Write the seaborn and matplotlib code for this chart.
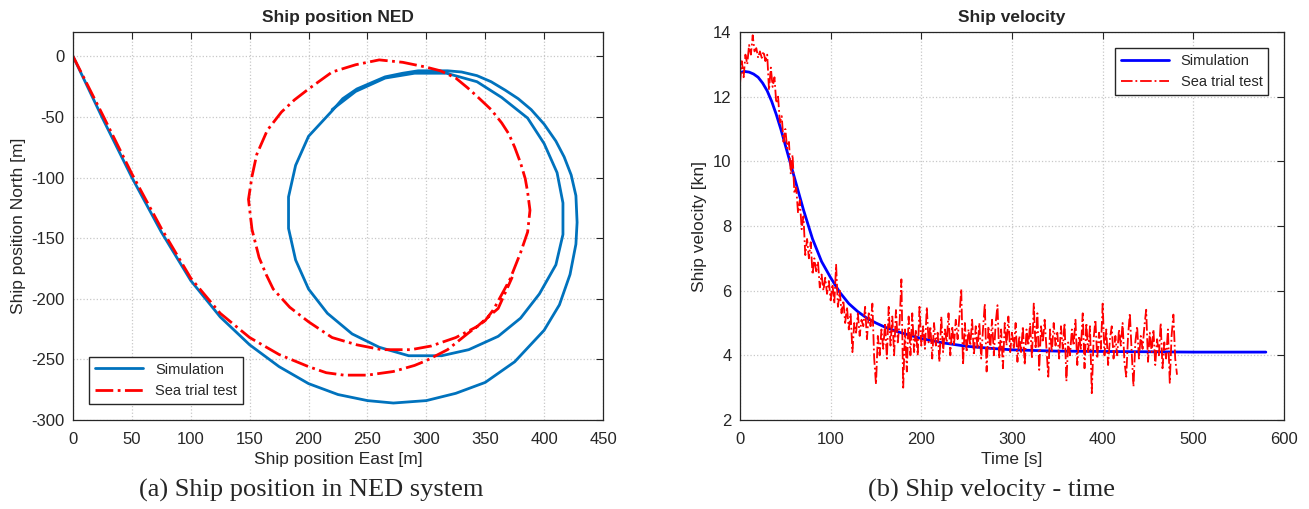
import numpy as np
import pandas as pd
import seaborn as sns
import matplotlib.pyplot as plt

# ship position NED - simulation (east, north) [m]
sim_east = [0, 25, 50, 75, 100, 125, 150, 175, 200, 225, 250, 272, 300, 325, 350, 375, 400,
            413, 422, 427, 428, 427, 423, 417, 410, 400, 389, 378, 367, 355, 343, 330, 318,
            305, 293, 280, 265, 253, 241, 229, 220,
            200, 189, 183, 183, 189, 200, 216, 237, 260, 285, 313, 336, 361, 380, 396, 410,
            416, 416, 411, 400, 386, 364, 343, 317, 290, 265, 240, 220]
sim_north = [0, -51, -100, -145, -185, -215, -238, -256, -270, -279, -284, -286, -284, -278,
             -269, -252, -226, -205, -180, -155, -137, -115, -98, -83, -70, -56, -44, -35, -28,
             -21, -16, -13, -12, -12, -12, -14, -17, -22, -27, -35, -45,
             -66, -90, -116, -142, -168, -192, -212, -229, -240, -247, -247, -242, -231, -216,
             -196, -172, -147, -121, -96, -72, -51, -34, -21, -14, -14, -18, -29, -44]

# ship position NED - sea trial test
sea_east = [0, 25, 50, 75, 100, 125, 150, 175, 200, 215, 230, 250, 272, 290, 300, 318, 336,
            350, 357, 371, 380, 386, 388, 386, 384, 380, 375, 370, 364, 355, 343, 335, 325,
            312, 300, 280, 260, 240, 220, 210, 200, 188, 177, 165, 156, 152, 149, 152, 158,
            164, 170, 184, 200, 220, 241, 262, 287, 304, 325, 343, 361, 373]
sea_north = [0, -48, -97, -142, -183, -212, -232, -246, -256, -261, -263, -263, -260, -255,
             -251, -242, -228, -218, -209, -184, -162, -145, -127, -112, -101, -88, -75, -64,
             -55, -44, -33, -26, -18, -12, -9, -5, -3, -7, -13, -20, -27, -36, -46, -61, -81,
             -99, -118, -143, -166, -180, -192, -207, -219, -232, -238, -242, -242, -239,
             -232, -223, -208, -182]

# ship velocity - simulation
sim_t = [0, 5, 10, 15, 20, 25, 30, 35, 40, 45, 50, 55, 60, 65, 70, 75, 80, 90, 100, 110, 120,
         130, 140, 150, 160, 175, 200, 225, 250, 275, 300, 325, 350, 400, 450, 500, 580]
sim_v = [12.75, 12.78, 12.76, 12.7, 12.6, 12.42, 12.18, 11.85, 11.45, 11.0, 10.5, 10.0, 9.5,
         9.0, 8.5, 8.05, 7.6, 6.9, 6.4, 5.95, 5.6, 5.35, 5.15, 5.0, 4.87, 4.72, 4.52, 4.38,
         4.28, 4.22, 4.17, 4.15, 4.13, 4.12, 4.11, 4.1, 4.1]

# ship velocity - sea trial, one sample every 2 s
sea_v = [12.4, 13.1, 12.6, 13.3, 13.0, 13.6, 13.3, 13.9, 13.4, 13.5, 13.2, 13.4, 13.2, 13.4,
         13.1, 13.3, 12.2, 12.9, 12.3, 12.6, 11.8, 12.0, 11.2, 11.4, 10.6, 11.0, 10.4, 10.6,
         9.6, 10.2, 9.0, 9.2, 8.4, 8.8, 7.9, 8.3, 7.1, 7.6, 7.0, 7.5, 6.5, 7.0, 6.6, 6.9,
         6.1, 6.5, 6.0, 6.4, 5.9, 6.3, 5.7,
         6.2, 5.6, 6.8, 5.5, 6.0, 5.3, 5.7, 5.0, 5.5, 4.8, 5.3, 4.1, 5.0, 4.7, 5.3, 4.6,
         5.1, 4.9, 5.5, 4.5, 5.3, 4.9, 5.6, 3.9, 3.1, 4.6, 4.0, 4.8, 4.2, 5.0, 3.9, 5.5,
         4.3, 5.2, 4.0, 5.4, 4.4, 5.0, 6.35, 3.0, 4.8, 3.5, 5.2, 4.0, 5.3, 4.1, 4.8, 4.0,
         5.5, 4.3,
         4.9, 4.2, 5.5, 4.4, 4.9, 3.9, 5.0, 4.3, 4.7, 3.8, 5.2, 4.1, 4.8, 4.4, 5.3, 4.0,
         4.9, 4.3, 5.1, 4.5, 5.2, 6.05, 3.7, 5.0, 4.1, 4.8, 4.3, 5.1, 4.0, 4.9, 4.2, 5.0,
         3.9, 4.8, 5.6, 3.5, 4.9, 4.2, 5.1, 4.0, 5.0, 5.55, 3.9, 4.8, 3.6, 5.0, 4.3, 5.2,
         4.1, 4.7,
         4.2, 5.0, 3.8, 4.6, 4.1, 4.9, 3.7, 4.8, 4.3, 5.0, 3.9, 5.6, 4.2, 5.3, 3.55, 4.9,
         4.4, 5.1, 4.2, 3.34, 4.8, 4.1, 5.0, 4.3, 4.7, 3.9, 4.9, 4.2, 5.0, 3.2, 4.4, 4.0,
         4.8, 4.3, 5.1, 3.7, 4.6, 4.2, 5.3, 3.6, 5.0, 4.1, 4.9, 2.83, 4.5, 5.1, 3.9, 4.7,
         4.2, 5.6,
         4.0, 4.8, 3.7, 4.5, 4.9, 3.9, 4.6, 4.0, 4.8, 4.3, 5.0, 3.8, 3.34, 4.6, 5.3, 4.1,
         3.03, 4.4, 4.9, 3.9, 4.6, 4.2, 4.9, 5.41, 3.8, 4.7, 4.1, 4.8, 3.7, 4.5, 4.0, 5.0,
         3.6, 4.4, 3.9, 4.8, 3.15, 4.6, 5.26, 3.9, 3.4]
sea_t = np.arange(len(sea_v)) * 2

sns.set_style('white')
plt.rcParams['font.family'] = ['Liberation Sans', 'DejaVu Sans']
plt.rcParams['axes.unicode_minus'] = False
plt.rcParams['axes.edgecolor'] = '#262626'
plt.rcParams['xtick.color'] = '#262626'
plt.rcParams['ytick.color'] = '#262626'

fig = plt.figure(figsize=(13.09, 5.09), dpi=100)
ax1 = fig.add_axes([73/1309, 1-420/509, 530/1309, 388/509])
ax2 = fig.add_axes([740/1309, 1-420/509, 544/1309, 388/509])

# left: position
sns.lineplot(x=sim_east, y=sim_north, sort=False, estimator=None, color='#0072BD',
             linewidth=2, label='Simulation', ax=ax1)
sns.lineplot(x=sea_east, y=sea_north, sort=False, estimator=None, color='red',
             linewidth=2, linestyle='-.', label='Sea trial test', ax=ax1)
ax1.set_xlim(0, 450)
ax1.set_ylim(-300, 20)
ax1.set_xticks(np.arange(0, 451, 50))
ax1.set_yticks(np.arange(-300, 1, 50))
ax1.set_title('Ship position NED', fontsize=12.5, fontweight='bold', pad=7)
ax1.set_xlabel('Ship position East [m]', fontsize=12.5, color='#262626', labelpad=3)
ax1.set_ylabel('Ship position North [m]', fontsize=12.5, color='#262626')
ax1.legend(loc='lower left', bbox_to_anchor=(0.031, 0.042), borderaxespad=0, fontsize=10.5,
           fancybox=False, edgecolor='#262626', framealpha=1, handlelength=3.3)

# right: velocity
sns.lineplot(x=sim_t, y=sim_v, color='blue', linewidth=2, label='Simulation', ax=ax2)
sns.lineplot(x=sea_t, y=sea_v, color='red', linewidth=1.3, linestyle='-.',
             label='Sea trial test', ax=ax2)
ax2.set_xlim(0, 600)
ax2.set_ylim(2, 14)
ax2.set_xticks(np.arange(0, 601, 100))
ax2.set_yticks(np.arange(2, 15, 2))
ax2.set_title('Ship velocity', fontsize=12.5, fontweight='bold', pad=7)
ax2.set_xlabel('Time [s]', fontsize=12.5, color='#262626', labelpad=3)
ax2.set_ylabel('Ship velocity [kn]', fontsize=12.5, color='#262626')
ax2.legend(loc='upper right', bbox_to_anchor=(0.971, 0.959), borderaxespad=0, fontsize=10.5,
           fancybox=False, edgecolor='#262626', framealpha=1, handlelength=3.3)

for ax in (ax1, ax2):
    ax.grid(True, color='#c8c8c8', linestyle=':', linewidth=0.9)
    ax.tick_params(direction='in', top=True, right=True, length=5, width=0.8, labelsize=12,
                   pad=6)
    ax.tick_params(axis='x', pad=9)
    for s in ax.spines.values():
        s.set_visible(True)
        s.set_linewidth(0.9)

fig.text(311/1309, 1-490/509, '(a) Ship position in NED system', ha='center', va='center',
         fontsize=19, family=['Liberation Serif', 'DejaVu Serif'])
fig.text(992/1309, 1-490/509, '(b) Ship velocity - time', ha='center', va='center',
         fontsize=19, family=['Liberation Serif', 'DejaVu Serif'])

fig.savefig('out.png', dpi=100)
